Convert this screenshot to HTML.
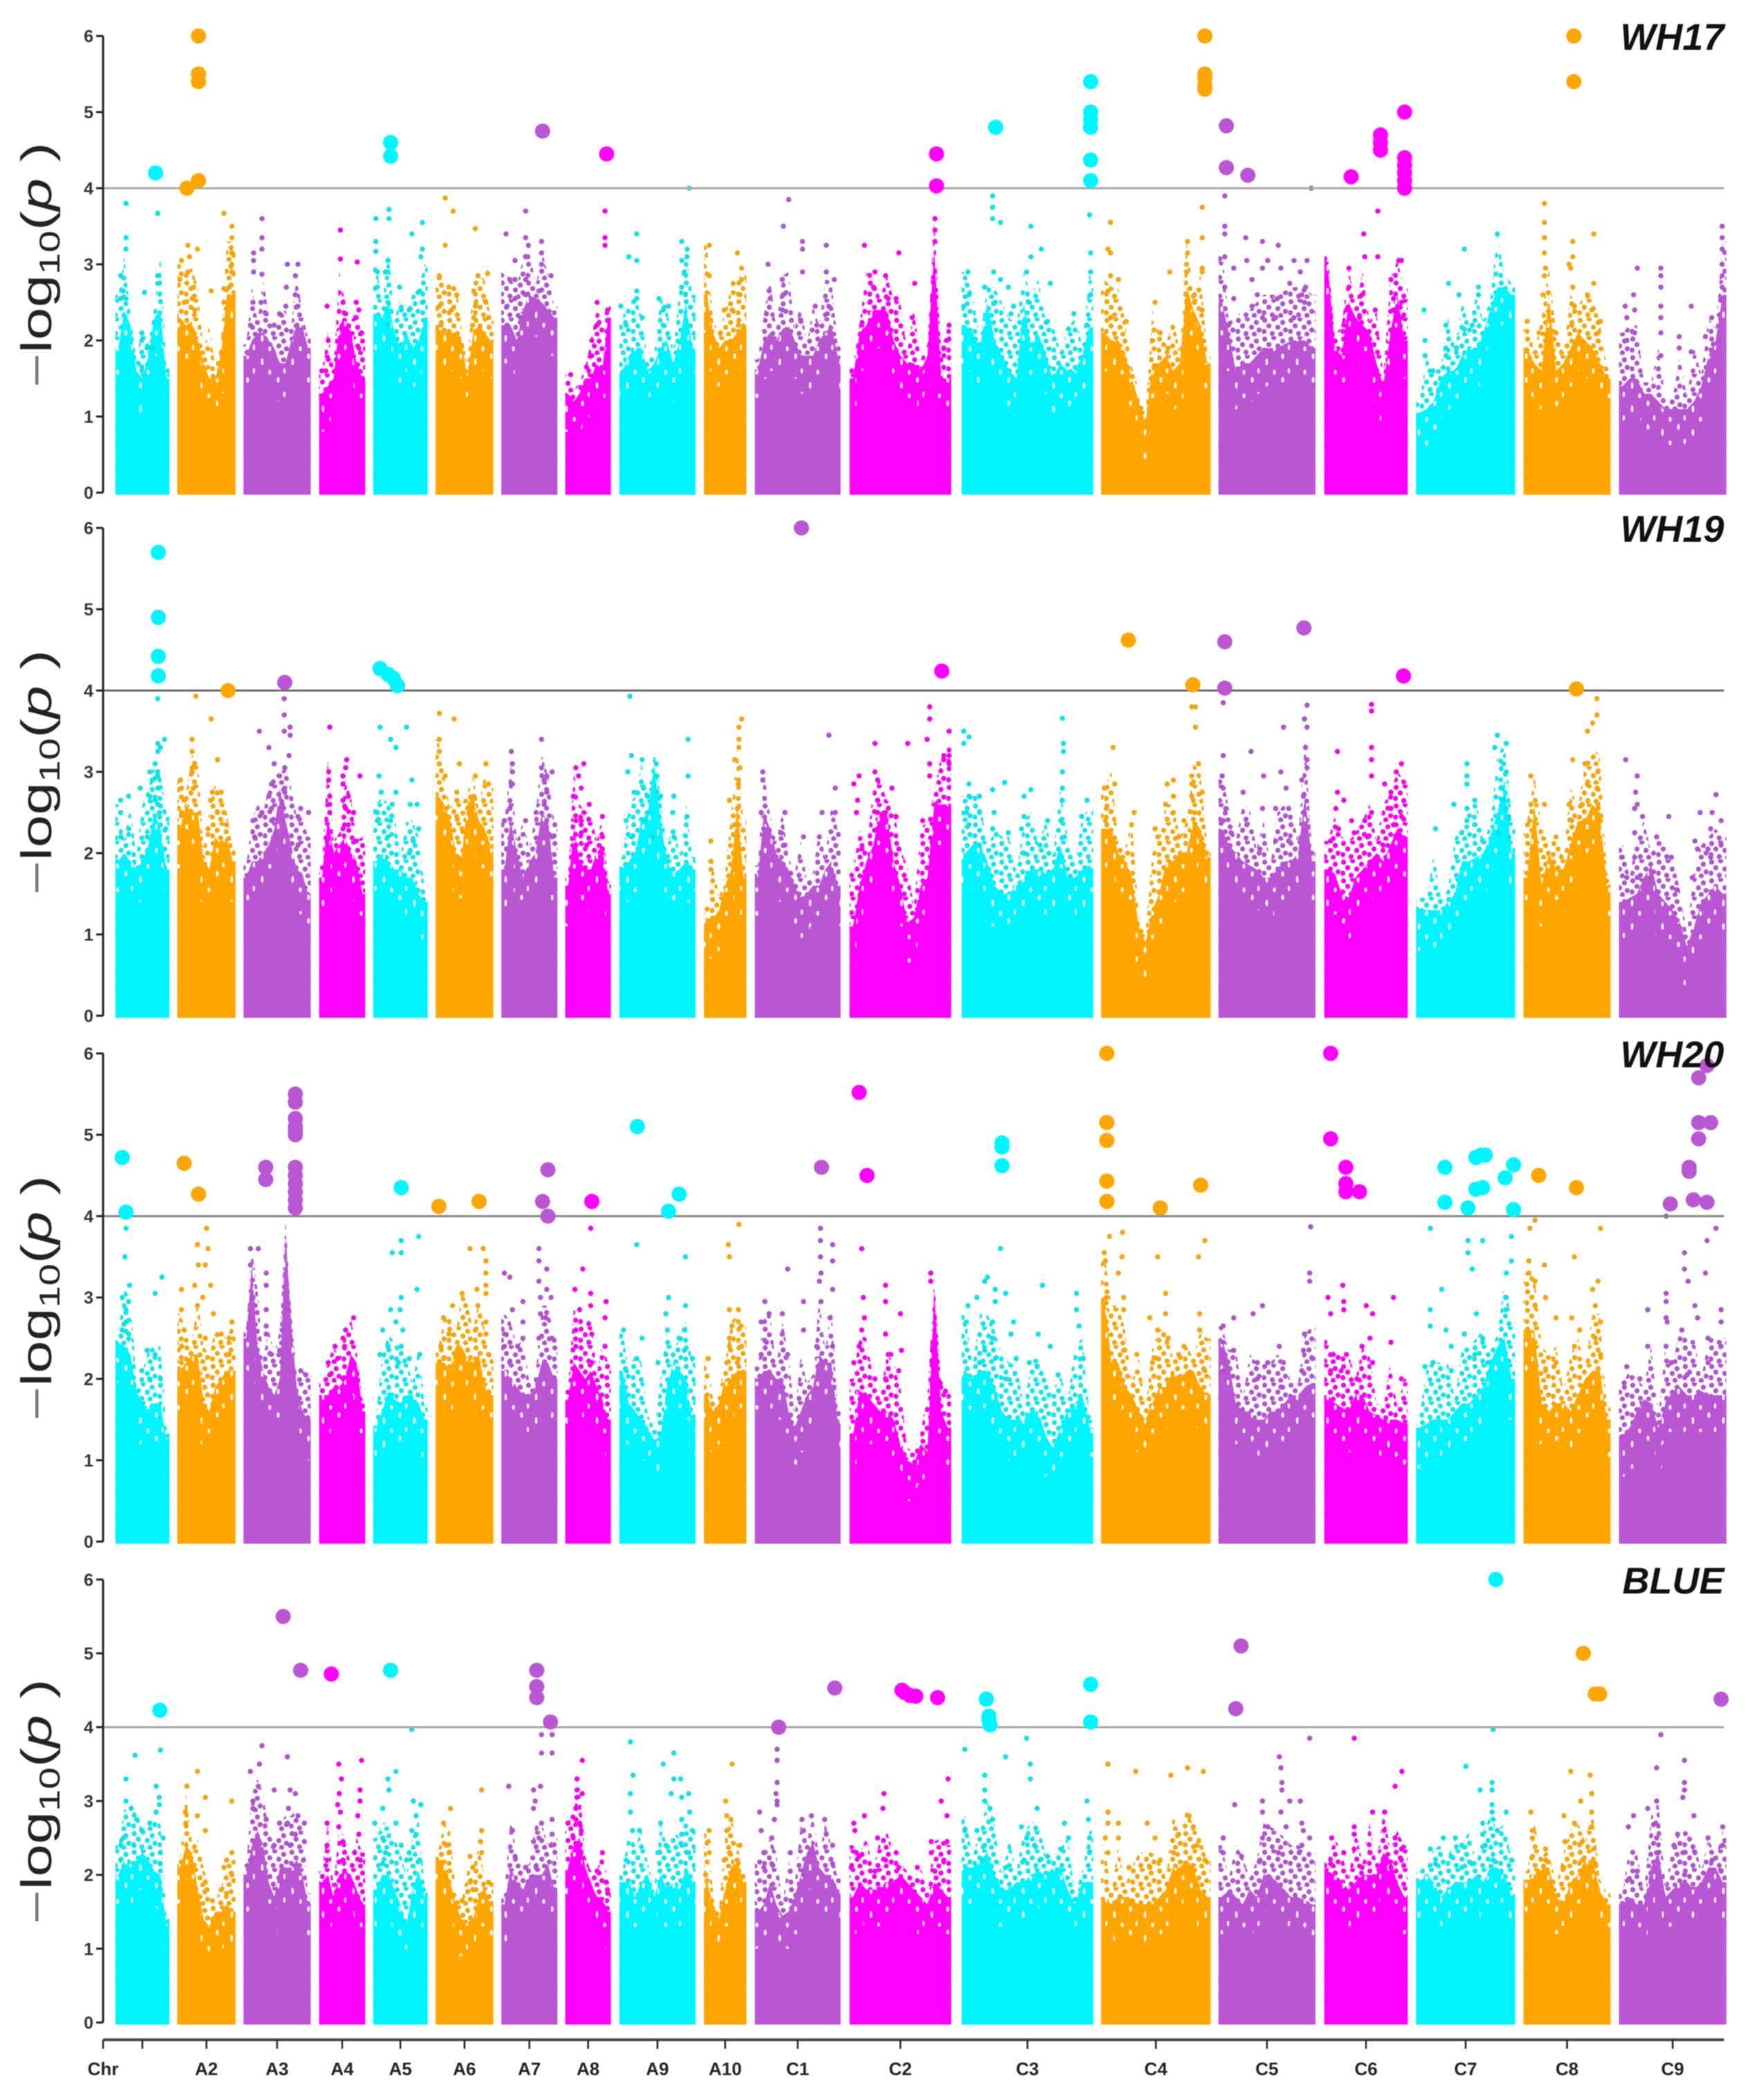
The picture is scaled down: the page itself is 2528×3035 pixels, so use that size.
<!DOCTYPE html>
<html lang="en">
<head>
<meta charset="utf-8">
<title>Manhattan plots WH17 WH19 WH20 BLUE</title>
<style>
html,body{margin:0;padding:0;background:#fff;}
#chart{display:block;width:2528px;height:3035px;filter:blur(0.9px);}
text{font-family:"Liberation Sans",sans-serif;}
</style>
</head>
<body>
<svg id="chart" xmlns="http://www.w3.org/2000/svg" width="2528" height="3035" viewBox="0 0 2528 3035">
<defs>
<g id="speckle-tile"><circle cx="4" cy="4" r="3.7"/><circle cx="17" cy="2" r="3.7"/><circle cx="30" cy="7" r="3.7"/><circle cx="10" cy="12" r="3.7"/><circle cx="23" cy="14" r="3.7"/><circle cx="34" cy="18" r="3.7"/><circle cx="3" cy="20" r="3.7"/><circle cx="15" cy="23" r="3.7"/><circle cx="27" cy="24" r="3.7"/></g>
<pattern id="speckle-0" patternUnits="userSpaceOnUse" width="38" height="27"><use href="#speckle-tile" fill="#14e4e8"/></pattern>
<pattern id="speckle-1" patternUnits="userSpaceOnUse" width="38" height="27"><use href="#speckle-tile" fill="#f4a40c"/></pattern>
<pattern id="speckle-2" patternUnits="userSpaceOnUse" width="38" height="27"><use href="#speckle-tile" fill="#b054cc"/></pattern>
<pattern id="speckle-3" patternUnits="userSpaceOnUse" width="38" height="27"><use href="#speckle-tile" fill="#f006ec"/></pattern>
<pattern id="fleck" patternUnits="userSpaceOnUse" width="44" height="34"><ellipse cx="6" cy="5" rx="2" ry="4" fill="#fff"/><ellipse cx="27" cy="13" rx="1.8" ry="5" fill="#fff"/><ellipse cx="38" cy="28" rx="2" ry="3.5" fill="#fff"/><ellipse cx="15" cy="26" rx="1.6" ry="4" fill="#fff"/></pattern>
</defs>
</svg>
<script>
const chromosomes=['A1','A2','A3','A4','A5','A6','A7','A8','A9','A10','C1','C2','C3','C4','C5','C6','C7','C8','C9'];
const chrLabels=['','A2','A3','A4','A5','A6','A7','A8','A9','A10','C1','C2','C3','C4','C5','C6','C7','C8','C9'];
const chrStart=[35,152,277,420,522,640,764,885,987,1147,1243,1422,1634,1900,2124,2326,2501,2706,2888];
const chrEnd=[137,262,404,507,625,749,870,971,1131,1227,1405,1614,1885,2109,2309,2485,2690,2872,3093];
const yTicks=[0,1,2,3,4,5,6];
const threshold=4;
const rightOffset=1568;

const wh17Envelope=[
[1.9,2.4,2.2,1.6,1.5,1.8,2.3,2.4,1.5],
[2.3,2.2,2.25,2.0,1.7,1.5,1.5,1.8,2.6,2.6],
[1.8,2.0,2.1,2.1,2.0,1.9,1.7,1.7,2.0,2.2,2.2,1.9],
[1.3,1.4,1.5,2.2,2.3,2.1,1.7,1.5],
[2.35,2.3,2.5,2.1,1.9,2.1,1.9,2.0,2.3],
[2.15,2.1,2.1,2.1,2.0,1.5,2.1,2.2,2.1,2.0],
[2.2,2.2,2.0,2.4,2.6,2.55,2.5,2.4,2.3],
[1.3,1.2,1.3,1.5,1.5,1.7,1.6,2.3],
[1.6,1.8,1.9,1.9,1.6,1.7,1.9,2.0,1.7,2.0,2.5,1.9],
[2.6,2.1,1.9,2.0,2.0,2.1,2.2],
[1.6,2.0,2.1,2.0,2.15,2.2,2.0,1.8,1.8,1.8,2.0,2.1,2.2,1.8],
[1.5,2.1,2.2,2.4,2.4,2.4,2.0,1.8,1.7,1.7,1.6,1.8,3.2,1.5,1.5],
[2.2,2.1,1.9,2.5,2.0,1.8,1.6,1.5,2.5,1.9,2.1,1.8,1.5,1.7,1.6,1.6,1.8,2.2],
[2.1,2.0,2.0,1.8,1.5,1.2,0.9,1.7,1.7,1.8,1.6,1.7,2.7,2.4,2.2,1.7],
[2.5,2.1,1.6,1.7,1.7,1.8,1.9,1.9,1.9,1.95,2.0,2.0,2.0,1.9],
[3.0,1.9,1.8,2.5,2.3,2.2,2.1,1.7,1.4,2.1,2.6,2.0],
[1.05,1.1,1.2,1.5,1.6,1.6,1.8,1.9,1.9,2.1,2.4,2.7,2.7,2.6],
[1.9,1.7,1.6,2.6,1.6,1.7,1.9,2.1,2.0,1.9,1.7,1.5],
[1.4,1.5,1.5,1.3,1.3,1.2,1.1,1.1,1.1,1.1,1.2,1.4,1.8,2.0,2.6]];
const wh17DotsLeft=[55,3.8,55,3.35,55,3.2,45,2.85,115,3.67,115,2.85,115,2.75,90,2.63,85,2.1,85,2,95,1.9,105,1.9,85,1.65,50,2.65,45,2.55,55,2.55,
240,3.67,255,3.5,255,3.35,255,3.15,255,3,255,2.9,172,3.25,190,3.2,160,3.05,175,3.1,172,2.9,157,2.8,183,2.7,216,2.65,240,2.68,250,2.7,165,2.5,180,2.55,240,2.5,185,2.4,240,2.05,
312,3.6,312,3.35,312,3.2,296,3.15,296,3.05,296,2.9,312,2.87,360,3,380,3,375,2.85,358,2.7,375,2.6,295,2.5,310,2.5,357,2.45,380,2.45,320,2.35,345,2.35,378,2.2,290,2.2,335,2.2,
460,3.45,460,3.07,492,3.03,435,2.45,465,2.5,490,2.5,495,2.4,490,2.3,470,2.35,437,2,437,1.75,500,2.1,495,1.9,425,1.6,
527,3.6,552,3.72,552,3.6,527,3.3,595,3.4,615,3.55,527,3.17,615,3.2,612,3.1,550,3.05,550,2.9,530,2.9,545,2.9,530,2.7,572,2.7,610,2.65,550,2.5,575,2.4,615,2.5,550,2.2,590,2.4,
658,3.87,673,3.7,715,3.47,658,3.25,647,2.85,665,2.7,680,2.6,712,2.65,720,2.85,738,2.88,647,2.45,715,2.45,735,2.5,670,2.4,712,2.3,740,2.3,650,2.2,710,2.2,
773,3.4,810,3.7,810,3.35,815,3.25,840,3.3,840,3.15,810,3.1,790,3.05,840,3,858,2.85,790,2.8,780,2.8,810,2.8,810,2.6,835,2.65,790,2.55,775,2.45,800,2.3,775,2.2,
960,3.7,960,3.35,960,3.25,945,2.5,965,2.4,945,2.2,935,2,935,1.8,925,1.65,895,1.55,
1119,4,1020,3.4,1105,3.3,1115,3.2,1115,3.1,1105,3.05,1005,3.1,1020,3.05,1110,2.9,1105,2.7,1020,2.65,1020,2.55,1112,2.6,1062,2.55,1080,2.45,990,2.45,1070,2.4,1030,2.3,1000,2.2,1070,2.2,
1157,3.25,1210,3.15,1218,2.95,1157,2.85,1202,2.75,1218,2.8,1215,2.6,1200,2.4,1185,2.4,1212,2.2,1178,2.1,
1307,3.85,1297,3.5,1333,3.3,1333,3.2,1378,3.25,1268,3,1333,2.9,1378,2.9,1393,2.8,1295,2.8,1270,2.65,1297,2.6,1272,2.55,1357,2.45,1383,2.45,1265,2.35,1295,2.4,1380,2.35,1330,2.25,1360,2.2,
1450,3.25,1515,3.15,1470,2.9,1490,2.85,1545,2.75,1467,2.7,1495,2.55,1510,2.55,1460,2.5,1540,2.3,1445,2.2];
const wh17DotsRight=[15,3.6,15,3.45,15,3.3,42,2.2,37,2,32,1.9,32,1.8,
125,3.9,125,3.75,125,3.6,140,3.55,198,3.5,310,3.65,218,3.2,198,3.1,312,3.15,78,2.9,127,2.9,190,2.9,140,2.8,312,2.9,235,2.75,110,2.7,155,2.7,312,2.6,80,2.6,195,2.5,130,2.5,165,2.45,70,2.45,160,2.35,280,2.35,230,2.25,305,2.2,270,2.15,
525,3.75,350,3.55,525,3.35,497,3.3,345,3.2,497,3.15,350,3.15,495,3,525,2.95,495,2.9,463,2.9,525,2.9,350,2.85,365,2.8,345,2.65,510,2.6,435,2.5,510,2.5,525,2.4,350,2.3,380,2.25,445,2.1,430,2,460,1.9,
733,4,568,3.9,568,3.5,568,3.4,608,3.35,640,3.3,670,3.25,568,3.1,610,3.05,650,3.05,700,3.05,725,3.05,585,2.95,640,2.95,675,2.95,712,2.9,620,2.8,692,2.75,568,2.7,722,2.7,630,2.6,585,2.55,668,2.55,715,2.6,620,2.45,720,2.5,640,2.3,700,2.3,575,2.2,665,2.3,
860,3.7,833,3.4,835,3.1,860,3.1,905,3.05,900,3.05,805,2.95,885,2.8,805,2.7,830,2.6,890,2.55,905,2.5,800,2.4,855,2.4,890,2.4,825,2.3,905,2.3,795,2.2,770,2.3,770,2.2,
1088,3.4,1025,3.2,995,2.75,1052,2.7,1015,2.6,1052,2.6,948,2.4,990,2.2,1040,2.2,950,2,1025,2.15,990,1.9,950,1.8,1010,1.9,990,1.8,965,1.6,
1178,3.8,1178,3.55,1178,3.35,1178,3.15,1272,3.4,1232,3.3,1232,3.1,1225,3,1228,2.95,1178,2.85,1180,2.95,1272,2.75,1232,2.7,1175,2.6,1260,2.6,1235,2.45,1268,2.4,1145,2.25,1230,2.2,1285,2.25,1168,2.1,1200,2.1,1280,2.1,1180,2,1245,2,
1517,3.5,1517,3.35,1517,3.2,1517,3,1517,2.85,1355,2.95,1400,2.95,1400,2.85,1400,2.7,1517,2.7,1348,2.6,1517,2.55,1332,2.45,1400,2.45,1458,2.45,1335,2.3,1350,2.4,1400,2.3,1497,2.3,1350,2.1,1400,2.1,1435,2.05,1485,2.05,1335,2,1435,1.9,1500,1.95,1400,1.8,1458,1.85];
const wh17HitsLeft=[111,4.2,170,4,192,4.1,192,5.4,192,5.5,192,6,555,4.42,555,4.6,842,4.75,963,4.45];
const wh17HitsRight=[18,4.45,18,4.03,131,4.8,312,5.4,312,5,312,4.9,312,4.8,312,4.37,312,4.1,530,6,530,5.5,530,5.45,530,5.35,530,5.3,571,4.82,571,4.27,612,4.17,809,4.15,865,4.7,865,4.6,865,4.5,911,5,911,4.4,911,4.3,911,4.2,911,4.1,911,4,1234,6,1234,5.4];

const wh19Envelope=[
[1.9,2.0,1.9,1.8,1.9,2.1,2.5,2.3,1.8],
[2.3,2.6,2.5,2.5,1.9,1.8,2.2,2.1,2.2,1.9],
[1.7,1.9,1.9,2.0,2.1,2.3,2.8,2.4,2.1,1.8,1.75,1.5],
[1.7,2.45,2.0,2.1,2.2,2.0,1.9,1.5],
[1.9,2.0,1.9,1.8,1.8,1.7,1.7,1.5,1.4],
[2.7,2.6,2.4,2.0,1.95,2.6,2.7,2.4,2.3,2.1],
[1.8,2.4,2.0,1.7,1.9,2.0,2.5,2.4,1.7],
[1.6,2.3,1.9,1.8,1.8,2.0,2.1,1.5],
[1.8,1.9,2.0,2.4,2.5,3.1,2.4,1.9,1.75,1.8,1.9,1.8],
[1.2,1.2,1.3,1.6,1.8,2.6,1.7],
[1.7,2.5,2.3,2.0,1.9,1.8,1.6,1.45,1.5,1.6,1.6,1.8,1.9,1.6],
[1.1,1.6,1.9,2.1,2.5,2.5,1.9,1.6,1.15,1.2,1.6,1.7,2.6,2.6,2.6],
[2.0,2.1,2.1,1.9,1.6,1.5,1.5,1.6,1.7,1.8,1.8,1.75,1.8,2.1,1.7,1.7,1.8,1.85],
[2.3,2.3,2.0,1.9,1.7,1.1,0.9,1.3,1.5,1.9,1.9,2.0,2.0,2.4,2.3,1.95],
[2.3,2.1,2.0,1.9,1.85,1.8,1.7,1.7,1.8,1.9,1.9,2.0,2.7,1.9],
[1.8,1.75,1.5,1.45,1.7,1.8,1.9,2.0,1.9,2.1,2.3,2.2],
[1.3,1.3,1.3,1.3,1.4,1.5,1.9,1.9,1.95,2.0,2.2,2.5,2.9,2.0],
[1.7,2.6,1.6,2.0,1.8,1.8,2.1,2.4,2.4,2.6,2.5,1.6],
[1.4,1.45,1.5,1.7,1.85,1.5,1.4,1.3,1.15,0.85,1.1,1.4,1.5,1.6,1.5]];
const wh19DotsLeft=[115,3.9,115,3.35,115,3.25,128,3.4,120,3.3,110,3.1,115,3,115,2.95,100,3,115,2.8,105,2.9,110,2.65,82,2.8,60,2.7,45,2.65,45,2.5,100,2.7,115,2.6,118,2.5,60,2.3,45,2.2,130,2.3,95,2.2,
187,3.93,216,3.65,180,3.4,180,3.25,185,3.1,228,3.15,180,3.05,180,3,158,2.9,160,2.8,182,2.8,218,2.75,235,2.75,165,2.65,215,2.65,228,2.5,240,2.5,160,2.5,245,2.35,210,2.3,
354,3.9,354,3.7,354,3.5,365,3.55,365,3.45,307,3.5,325,3.3,363,3.2,335,3.1,355,3.05,345,2.95,330,2.85,355,2.8,325,2.7,350,2.6,355,2.75,312,2.5,330,2.55,385,2.55,400,2.5,295,2.4,330,2.4,380,2.45,298,2.2,340,2.2,380,2.1,
440,3.55,472,3.15,470,3.05,465,2.95,438,3,438,2.9,497,2.95,465,2.85,440,2.7,440,2.6,465,2.65,475,2.7,470,2.55,440,2.5,485,2.5,475,2.35,490,2.15,465,2.3,
535,3.55,585,3.55,555,3.4,565,3.3,533,2.95,595,2.9,537,2.75,565,2.75,558,2.6,530,2.5,592,2.6,605,2.6,555,2.4,530,2.4,608,2.3,550,2.2,598,2.15,590,2,
647,3.72,675,3.65,647,3.4,647,3.25,647,3.1,685,3.1,735,3.1,658,2.95,715,2.95,680,2.75,680,2.65,712,2.7,740,2.85,710,2.55,740,2.5,680,2.45,715,2.4,660,2.55,690,2.3,
840,3.4,783,3.25,785,3.1,785,3,840,3.05,860,3,850,2.95,845,2.9,785,2.85,850,2.75,845,2.6,780,2.55,830,2.5,850,2.4,770,2.4,810,2.4,860,2.2,
920,3.1,905,3.05,910,2.95,915,2.8,900,2.7,930,2.6,920,2.5,915,2.4,905,2.4,955,2.45,915,2.25,955,2.2,905,2.1,955,2.05,925,2.1,
1007,3.93,1117,3.4,1010,3.2,1030,3.15,1057,3.1,1003,3,1058,2.95,1117,2.95,1033,2.8,1040,2.7,1058,2.75,1015,2.75,1065,2.7,1090,2.7,1042,2.5,1088,2.5,1000,2.4,1035,2.4,1115,2.45,1010,2.2,1090,2.2,1050,2.2,
1218,3.65,1213,3.55,1213,3.4,1213,3.3,1205,3.15,1215,3.05,1212,2.9,1212,2.85,1195,2.65,1210,2.55,1160,2.15,1160,1.9,1205,2.35,1160,1.8,
1383,3.45,1258,3,1258,2.9,1395,2.8,1300,2.5,1370,2.5,1395,2.5,1255,2.5,1260,2.3,1293,2.25,1335,2.2,1365,2.2,1300,2.1,
1470,3.35,1532,3.35,1470,3,1475,2.9,1440,2.95,1430,2.85,1475,2.65,1502,2.8,1437,2.65,1475,2.5,1490,2.5,1435,2.5,1510,2.45,1560,2.4,1475,2.3,1445,2.05,1515,2.05];
const wh19DotsRight=[5,3.8,5,3.65,42,3.5,0,3.4,5,3.1,32,3.2,42,3.2,42,3.1,5,2.95,15,2.6,
258,3.66,70,3.5,80,3.43,70,3.35,260,3.35,260,3.25,258,3,80,2.85,148,2.87,125,2.78,198,2.78,80,2.7,100,2.7,185,2.7,258,2.8,258,2.65,305,2.65,75,2.5,100,2.5,128,2.5,185,2.45,295,2.45,230,2.4,255,2.4,80,2.35,125,2.3,155,2.25,180,2.3,100,2.1,262,2.2,215,2.1,185,2,
355,3.3,512,3.8,505,3.8,512,3.55,518,3.1,505,2.95,505,2.85,470,2.9,458,2.85,338,2.8,358,2.85,470,2.7,505,2.7,525,2.75,455,2.6,470,2.5,342,2.55,395,2.5,510,2.5,340,2.4,390,2.35,490,2.4,435,2.3,440,2.2,480,2.2,
565,3.85,725,3.82,720,3.65,725,3.55,680,3.55,722,3.3,618,3.25,565,3.2,725,3.15,725,3.05,675,3,642,2.95,563,2.95,715,2.9,565,2.8,685,2.8,603,2.75,718,2.7,570,2.55,640,2.55,665,2.55,690,2.55,718,2.5,565,2.4,610,2.35,580,2.25,665,2.15,690,2.15,635,2.05,
848,3.83,848,3.75,848,3.3,783,3.25,848,3.15,905,3.1,895,3,848,2.95,873,2.85,783,2.75,885,2.75,795,2.65,885,2.55,780,2.55,848,2.5,905,2.45,835,2.4,810,2.4,890,2.35,785,2.3,815,2.25,840,2.2,870,2.1,900,2.2,770,2.15,
1088,3.45,1105,3.35,1083,3.3,1100,3.1,1030,3.1,1105,3,1030,2.95,1030,2.85,1095,2.8,1100,2.65,1105,2.55,1045,2.65,1005,2.6,1030,2.55,1110,2.45,1030,2.4,1045,2.35,970,2.3,1020,2.25,1060,2.15,1090,2.25,1110,2.2,
1278,3.9,1278,3.7,1270,3.6,1260,3.5,1232,3.15,1255,3.1,1280,3,1152,2.95,1260,2.85,1278,2.8,1152,2.6,1178,2.6,1225,2.6,1250,2.6,1280,2.6,1230,2.4,1255,2.4,1150,2.4,1285,2.4,1200,2.2,1270,2.2,1230,2,
1333,3.15,1355,2.95,1352,2.75,1505,2.72,1355,2.6,1350,2.55,1475,2.5,1498,2.5,1365,2.45,1415,2.45,1515,2.4,1495,2.3,1350,2.25,1392,2.2,1465,2.15,1515,2.1,1470,2.05,1490,2.05,1350,1.95,1325,1.95,1420,1.95,1495,1.95,1335,1.7,1355,1.7,1380,1.7,1430,1.55,1460,1.7];
const wh19HitsLeft=[116,5.7,116,4.9,116,4.42,116,4.18,248,4,355,4.1,535,4.27,550,4.2,560,4.15,568,4.06,1331,6];
const wh19HitsRight=[28,4.24,384,4.62,507,4.07,568,4.6,568,4.03,719,4.77,909,4.18,1239,4.02];

const wh20Envelope=[
[2.45,2.4,2.3,1.85,1.7,1.65,1.7,1.7,1.25],
[2.1,2.2,2.3,2.3,1.7,1.6,1.9,2.0,2.1,2.1],
[2.5,3.4,2.4,2.1,1.9,1.8,2.0,3.8,2.7,1.9,1.6,1.5],
[1.8,1.8,1.9,1.9,2.0,2.3,2.2,1.6],
[1.4,1.6,1.85,1.75,1.7,1.8,1.8,1.7,1.5],
[2.2,2.2,2.1,2.4,2.4,2.25,2.2,2.3,1.9,1.8],
[2.1,2.0,1.9,1.8,1.8,1.9,2.2,2.2,2.0],
[1.75,2.2,2.1,2.0,2.1,1.9,1.75,1.5],
[2.1,1.7,1.6,1.5,1.4,1.25,1.3,1.9,2.2,2.1,2.0,1.5],
[1.8,1.6,1.7,2.0,2.0,2.1,2.1],
[2.0,2.1,2.1,2.0,2.0,1.6,1.4,1.6,1.8,1.9,2.3,2.2,2.2,1.5],
[1.3,1.85,1.8,1.7,1.6,1.6,1.5,1.2,1.0,0.95,1.2,1.1,3.1,1.6,1.4],
[2.1,2.0,2.1,2.1,1.9,1.6,1.5,1.5,1.5,1.6,1.6,1.3,1.15,1.4,1.6,1.7,1.8,1.4],
[3.0,2.2,2.2,1.9,1.8,1.6,1.5,1.7,1.9,1.9,2.1,2.0,2.1,2.1,1.9,1.8],
[2.5,2.2,1.7,1.6,1.6,1.5,1.5,1.6,1.6,1.7,1.8,1.8,1.9,1.95],
[1.8,1.7,1.65,1.6,1.8,1.8,1.6,1.55,1.5,1.5,1.5,1.45],
[1.4,1.45,1.5,1.5,1.5,1.6,1.7,1.7,1.8,1.9,2.2,2.4,2.5,2.0],
[2.6,2.6,1.7,1.6,1.7,1.7,1.6,1.8,2.0,2.1,2.1,1.5],
[1.3,1.4,1.6,1.75,1.7,1.4,1.7,1.85,1.9,1.8,1.8,1.85,1.8,1.8,1.8]];
const wh20DotsLeft=[55,3.85,53,3.5,123,3.25,62,3.15,48,3,110,3.05,60,2.95,55,2.85,55,2.7,48,2.6,60,2.55,95,2.35,110,2.3,85,2.1,100,2,120,2,
207,3.85,190,3.65,210,3.6,192,3.4,205,3.4,185,3.15,215,3.15,160,3.1,200,3,190,2.9,160,2.85,220,2.8,255,2.7,165,2.6,235,2.55,250,2.5,205,2.5,160,2.4,250,2.3,160,2.2,
305,3.6,290,3.6,290,3.4,320,3.3,320,3.15,295,3,320,2.85,290,2.75,360,2.85,320,2.65,350,2.6,320,2.55,345,2.35,330,2.3,385,2.1,395,2.05,350,2.2,
485,2.75,470,2.6,465,2.5,450,2.4,468,2.4,437,2.2,455,2.25,480,2.1,440,2.05,465,2,490,2,
608,3.75,575,3.7,558,3.55,575,3.55,605,3.1,575,3,555,2.85,573,2.85,565,2.7,540,2.6,578,2.6,550,2.4,575,2.4,535,2.3,610,2.3,590,2.25,570,2.2,
705,3.6,730,3.6,735,3.45,735,3.3,735,3.15,735,3.05,718,3.1,690,3.05,672,2.9,720,2.9,735,2.7,655,2.75,735,2.55,665,2.55,715,2.6,650,2.4,740,2.3,655,2.25,
835,3.6,835,3.45,835,3.2,770,3.3,780,3.25,850,3.35,850,3.1,838,3,858,3,805,2.95,785,2.85,838,2.8,805,2.7,848,2.75,770,2.55,805,2.5,770,2.4,835,2.5,860,2.5,795,2.4,780,2.2,
933,3.85,918,3.35,903,3.1,933,3.05,962,2.95,933,2.9,912,2.85,960,2.75,905,2.6,935,2.55,905,2.4,960,2.4,935,2.2,
1020,3.65,1112,3.5,1080,3,1112,2.9,1075,2.8,1030,2.5,1110,2.6,1078,2.6,995,2.6,1100,2.5,1110,2.35,1020,2.25,1075,2.3,1060,2.2,1125,2.25,1000,2.1,
1213,3.9,1193,3.65,1195,3.5,1195,2.85,1212,2.85,1200,2.65,1195,2.5,1217,2.65,1195,2.4,1218,2.4,1155,2.25,1190,2.2,1210,2.2,
1367,3.85,1367,3.7,1390,3.65,1367,3.5,1390,3.45,1305,3.35,1368,3.3,1365,3.2,1390,3.1,1262,2.95,1335,2.95,1368,2.95,1270,2.8,1295,2.8,1385,2.75,1255,2.7,1335,2.6,1295,2.55,1265,2.45,1360,2.4,1305,2.3,1255,2.3,1390,2.4,
1445,3.6,1490,3.15,1448,3,1490,2.95,1518,2.8,1450,2.75,1445,2.6,1490,2.55,1495,2.3,1440,2.4,1520,2.35,1500,2.3,1430,2.2,1515,2.1,1470,2,1490,2];
const wh20DotsRight=[7,3.3,7,3.2,10,2.35,25,1.95,35,1.85,
140,3.6,115,3.25,110,3.2,220,3.15,130,3.1,150,3.05,285,3.05,130,2.95,95,3,78,2.9,285,2.85,125,2.7,75,2.7,165,2.7,290,2.65,125,2.5,160,2.55,212,2.55,235,2.4,110,2.35,170,2.25,298,2.25,130,2.25,195,2.2,210,2.15,250,2.05,150,2,100,2.2,
348,3.75,373,3.8,530,3.7,338,3.55,340,3.45,372,3.5,440,3.5,518,3.5,365,3.3,455,3.05,375,3,342,3,425,2.75,375,2.85,455,2.8,520,2.8,400,2.3,440,2.6,490,2.4,520,2.6,375,2.35,430,2.2,460,2.5,480,2.3,530,2.1,440,2.25,
732,3.87,730,3.3,730,3.2,640,2.9,622,2.8,585,2.75,565,2.65,720,2.55,565,2.45,672,2.4,585,2.35,718,2.35,735,2.25,630,2.2,680,2.2,565,2.1,650,2.2,715,2.1,675,1.9,630,2,
793,3.15,765,3,795,2.95,890,3,838,2.9,795,2.85,770,2.8,850,2.8,845,2.5,885,2.45,830,2.4,775,2.3,800,2.3,850,2.2,905,2,790,2.1,820,2,770,2.1,
960,3.85,1032,3.7,1060,3.7,1115,3.75,1032,3.55,1115,3.45,1040,3.35,1105,3.3,982,3.1,1105,3,960,2.85,1048,2.8,1105,2.85,960,2.65,990,2.6,1025,2.55,1060,2.5,1000,2.4,1045,2.3,965,2.2,1000,2.1,950,2.15,1070,2.2,
1160,3.95,1150,3.85,1285,3.85,1235,3.5,1148,3.45,1148,3.3,1178,3.4,1160,3.2,1280,3.2,1270,3.1,1180,3,1160,2.9,1275,2.9,1230,2.75,1200,2.75,1285,2.7,1245,2.6,1275,2.5,1200,2.2,1285,2.3,1235,2.4,1180,2.1,
1410,4,1505,3.85,1488,3.7,1445,3.55,1445,3.35,1485,3.3,1452,3.2,1410,3.05,1410,2.95,1375,2.85,1465,2.9,1515,2.85,1410,2.75,1470,2.75,1515,2.7,1412,2.7,1440,2.6,1490,2.5,1375,2.4,1410,2.4,1515,2.4,1335,2.15,1360,2,1330,1.95,1420,2.2,1450,2.05,1490,2.2];
const wh20HitsLeft=[48,4.72,55,4.05,165,4.65,192,4.27,319,4.6,319,4.45,375,5.5,375,5.4,375,5.2,375,5.1,375,5.05,375,5,375,4.6,375,4.5,375,4.4,375,4.3,375,4.2,375,4.1,575,4.35,646,4.12,722,4.18,842,4.18,852,4.57,852,4,935,4.18,1021,5.1,1080,4.06,1100,4.27,1369,4.6,1440,5.52,1455,4.5];
const wh20HitsRight=[143,4.9,143,4.85,143,4.62,343,6,343,5.15,343,4.93,343,4.43,343,4.18,445,4.1,522,4.38,770,6,770,4.95,799,4.6,799,4.4,799,4.3,825,4.3,988,4.6,988,4.17,1032,4.1,1047,4.72,1057,4.75,1065,4.75,1047,4.33,1060,4.35,1103,4.47,1119,4.63,1119,4.08,1167,4.5,1239,4.35,1418,4.15,1454,4.6,1454,4.55,1462,4.2,1472,4.95,1472,5.7,1488,5.85,1472,5.15,1495,5.15,1488,4.17];

const blueEnvelope=[
[2.0,2.2,2.1,2.2,2.3,2.2,2.05,2.0,1.3],
[2.1,2.4,2.3,1.8,1.4,1.3,1.5,1.5,1.6,1.5],
[2.0,2.4,2.6,2.4,1.9,1.7,2.1,2.1,2.1,2.2,2.0,1.6],
[1.9,2.0,1.7,2.0,2.05,2.0,1.8,1.6],
[1.8,2.0,2.0,1.8,1.6,1.3,1.8,2.05,1.7],
[2.2,2.2,1.9,1.6,1.4,1.35,1.4,1.7,1.8,1.6],
[1.6,2.1,1.9,1.8,2.0,2.0,2.0,2.15,1.8],
[2.1,2.4,2.5,2.1,1.9,1.7,1.7,1.5],
[1.9,1.9,1.7,1.9,2.0,1.7,2.0,1.8,1.9,1.8,2.1,1.9],
[1.9,1.6,1.4,1.8,2.1,2.2,1.9],
[1.5,1.6,1.9,1.6,1.45,1.5,1.7,2.0,2.3,2.45,2.1,2.0,2.0,1.8],
[1.7,1.9,1.8,1.8,1.8,1.9,1.9,2.0,1.9,1.8,1.7,1.6,1.9,1.8,1.7],
[2.1,2.1,2.2,2.3,2.0,1.8,1.8,1.9,1.9,2.0,2.05,2.0,2.1,2.1,1.8,1.6,1.9,1.9],
[1.7,1.6,1.7,1.7,1.65,1.6,1.6,1.6,1.7,1.8,2.1,2.1,2.2,2.1,1.8,1.7],
[1.7,1.8,1.7,1.6,1.8,1.7,2.0,2.0,1.9,1.8,1.7,1.7,1.65,1.6],
[2.05,2.0,1.9,1.8,1.9,2.0,2.0,2.0,2.3,2.2,1.9,1.7],
[1.9,2.0,1.9,1.7,1.8,1.9,1.9,1.9,2.0,1.9,2.1,2.1,2.0,1.7],
[1.9,2.0,2.1,2.1,1.7,1.6,1.9,2.0,2.2,2.2,1.8,1.6],
[1.6,1.7,1.6,1.6,2.1,2.3,1.7,1.8,1.9,1.9,1.8,1.9,2.1,2.1,1.9]];
const blueDotsLeft=[120,3.69,72,3.62,55,3.3,112,3.2,118,3.05,118,2.95,55,3,65,2.9,112,2.85,75,2.75,100,2.7,85,2.6,50,2.5,125,2.5,45,2.4,120,2.3,70,2.4,45,2.2,120,2.15,
190,3.4,170,3.2,205,3.05,255,3,167,2.85,190,2.8,168,2.7,205,2.6,255,2.3,245,2.2,240,2.1,255,2,205,1.9,235,1.8,208,1.8,245,1.75,
312,3.75,360,3.6,307,3.5,290,3.4,305,3.2,365,3.15,375,3.1,335,3.15,295,3,295,2.9,362,2.9,380,2.8,320,2.75,345,2.7,360,2.7,392,2.7,375,2.55,392,2.45,365,2.4,335,2.4,290,2.2,390,2.2,
500,3.55,457,3.5,462,3.3,458,3.1,497,3.15,497,3,455,2.95,460,2.85,493,2.8,435,2.7,457,2.65,495,2.55,435,2.4,465,2.45,487,2.3,435,2.2,465,2.2,498,2.2,
595,3.97,565,3.4,550,3.3,552,3.15,598,3,612,2.95,540,2.9,603,2.8,525,2.7,565,2.7,595,2.6,603,2.55,540,2.5,575,2.4,545,2.3,590,2.3,610,2.2,540,2.15,585,2.2,
668,2.9,727,3.15,655,2.7,727,2.6,725,2.45,660,2.4,727,2.3,705,2.25,710,2.1,665,2.3,705,1.9,740,1.9,710,1.8,730,1.75,690,1.65,
840,3.9,860,3.9,840,3.65,860,3.65,778,3.2,838,3.2,825,3.15,828,3,825,2.9,860,2.75,840,2.7,785,2.6,860,2.55,835,2.5,825,2.45,858,2.4,790,2.25,810,2.1,830,2.1,
917,3.55,907,3.3,907,3.15,907,3.05,917,3.1,905,2.9,905,2.75,890,2.7,912,2.7,900,2.5,915,2.6,962,1.9,965,1.75,955,2.3,945,2.05,
1008,3.8,1090,3.65,1070,3.5,1103,3.3,1013,3.35,1090,3.3,1008,3.1,1118,3.1,1085,3.1,1105,3.05,1120,2.85,1008,2.85,1105,2.75,1065,2.7,1012,2.6,1025,2.6,1105,2.55,1125,2.6,1075,2.4,1105,2.4,1060,2.3,1000,2.2,1118,2.3,
1200,3.5,1188,3,1190,2.8,1198,2.75,1157,2.6,1190,2.6,1155,2.45,1215,2.4,1195,2.3,1157,2.3,1210,2.2,1150,2,1185,2.2,
1285,3.7,1285,3.55,1285,3.25,1283,3.1,1285,2.95,1285,3,1252,2.85,1280,2.75,1332,2.75,1375,2.75,1350,2.8,1255,2.6,1335,2.6,1378,2.55,1275,2.5,1390,2.4,1260,2.3,1310,2.3,1350,2.3,1275,2.15,1310,2.05,1260,2.1,1390,2.15,1335,2,
1487,3.1,1485,2.9,1450,2.8,1430,2.7,1432,2.6,1475,2.5,1435,2.3,1510,2.3,1425,2.1,1470,2.05,1490,2.2,1515,2.1,1550,2.1,1440,2.25];
const blueDotsRight=[40,3.3,27,3,38,2.8,8,2.45,38,2.45,8,2.3,32,2.2,15,2.05,
190,3.85,72,3.7,150,3.6,197,3.5,110,3.35,197,3.3,110,3.15,110,3,305,3,120,2.9,210,2.9,125,2.75,308,2.75,262,2.7,180,2.65,72,2.6,95,2.6,190,2.5,310,2.5,270,2.5,110,2.4,205,2.4,310,2.3,255,2.35,105,2.2,185,2.2,230,2.25,150,2.1,215,2.2,
345,3.5,398,3.4,465,3.35,497,3.45,527,3.4,345,2.85,345,2.7,420,2.7,365,2.7,500,2.8,508,2.65,480,2.55,340,2.5,435,2.5,365,2.5,515,2.4,345,2.3,470,2.3,530,2.2,445,2.2,425,2.1,385,2.1,
730,3.85,672,3.6,675,3.45,677,3.25,677,3.15,692,3,712,3,587,2.95,640,3,640,2.85,675,2.85,715,2.7,650,2.65,718,2.6,685,2.65,565,2.5,640,2.5,730,2.5,715,2.4,565,2.3,670,2.3,710,2.3,635,2.2,600,2.25,
815,3.85,906,3.4,893,3.2,850,2.85,873,2.85,815,2.65,815,2.55,772,2.5,893,2.5,872,2.6,905,2.35,795,2.3,815,2.35,845,2.3,905,2.2,770,2.15,830,2.1,885,2.1,
1080,3.97,1028,3.47,1078,3.25,1055,3.15,1078,3.15,1078,2.95,1078,2.85,1105,2.85,1080,2.75,1060,2.7,1088,2.6,1060,2.55,1008,2.5,985,2.5,1020,2.4,960,2.35,1065,2.4,1000,2.25,1115,2.2,970,2.15,1040,2.15,1080,2.2,1020,2.1,
1228,3.4,1265,3.35,1268,3.1,1247,3,1152,2.85,1268,2.85,1215,2.8,1235,2.7,1155,2.6,1268,2.65,1155,2.5,1217,2.45,1250,2.45,1180,2.35,1272,2.35,1155,2.25,1250,2.2,1275,2.15,1180,2.2,1215,2.1,
1400,3.9,1445,3.55,1392,3.45,1445,3.25,1445,3.15,1442,3.05,1392,3,1375,2.9,1348,2.8,1463,2.8,1338,2.65,1390,2.7,1518,2.65,1392,2.5,1432,2.55,1490,2.5,1518,2.4,1425,2.4,1442,2.3,1465,2.3,1392,2.3,1498,2.2,1355,2.05,1515,2.05,1445,2,1340,1.95];
const blueHitsLeft=[119,4.23,352,5.5,385,4.77,443,4.72,555,4.77,831,4.77,831,4.55,831,4.4,857,4.07,1288,4,1394,4.53,1521,4.5,1526,4.47,1536,4.43,1547,4.42];
const blueHitsRight=[20,4.4,113,4.38,118,4.15,118,4.1,120,4.03,312,4.58,312,4.07,589,4.25,599,5.1,1085,6,1252,5,1275,4.45,1283,4.45,1515,4.38];

const panelNames=['WH17','WH19','WH20','BLUE'];

const svg=document.getElementById('chart');
const NS='http://www.w3.org/2000/svg';
const fills=['#00f5ff','#ffa500','#ba55d3','#ff00ff'];
const dotFills=['#10e0e4','#f2a410','#ac54c8','#ec08e4'];
const colorOrder=[0,1,2,3,0,1,2,3,0,1,2,3,0,1,2,3,0,1,2];
const axisLeft=149;
const axisRight=2492;
const layouts=[
 {y0:712,unit:110,line:'#a8a8a8'},
 {y0:1468,unit:117.5,line:'#6a6a6a'},
 {y0:2228,unit:117.6,line:'#808080'},
 {y0:2923,unit:106.7,line:'#a4a4a4'}
];
function xOf(p){return p<rightOffset?140+p/1.307:1340+(p-rightOffset)/1.32;}
function make(tag,attrs,parent){
 const el=document.createElementNS(NS,tag);
 for(const k in attrs){el.setAttribute(k,attrs[k]);}
 parent.appendChild(el);
 return el;
}
function chrIndexOf(p){
 for(let i=0;i<chrEnd.length;i++){if(p<chrEnd[i]+8)return i;}
 return chrEnd.length-1;
}
function profilePath(x0,x1,base,tops,yOf){
 const w=(x1-x0)/tops.length;
 let d='M'+x0.toFixed(1)+' '+base+'L'+x0.toFixed(1)+' '+yOf(tops[0]).toFixed(1);
 tops.forEach((v,i)=>{d+='L'+(x0+(i+0.5)*w).toFixed(1)+' '+yOf(v).toFixed(1);});
 d+='L'+x1.toFixed(1)+' '+yOf(tops[tops.length-1]).toFixed(1)+'L'+x1.toFixed(1)+' '+base+'Z';
 return d;
}
function cloudTops(c,bins,allDots){
 const start=chrStart[c],end=chrEnd[c];
 const best=bins.map(v=>v+0.15);
 for(let i=0;i<allDots.length;i+=2){
  const p=allDots[i];
  if(p<start||p>end)continue;
  const b=Math.min(bins.length-1,Math.floor((p-start)/(end-start)*bins.length));
  const v=allDots[i+1];
  if(v>best[b])best[b]=v;
 }
 return best.map((v,i)=>Math.min(v,bins[i]+0.7));
}
function drawPanel(index,name,envelope,dotsLeft,dotsRight,hitsLeft,hitsRight){
 const L=layouts[index];
 const yOf=v=>L.y0-v*L.unit;
 const g=make('g',{},svg);
 
 
 const allDots=dotsLeft.concat(dotsRight.map((n,i)=>i%2===0?n+rightOffset:n));
 envelope.forEach((bins,c)=>{
  const x0=xOf(chrStart[c]),x1=xOf(chrEnd[c]);
  const base=L.y0+3;
  const tone=colorOrder[c];
  const cloud=make('path',{d:profilePath(x0,x1,base,cloudTops(c,bins,allDots),yOf),fill:'url(#speckle-'+tone+')'},g);
  
  
  const mass=make('path',{d:profilePath(x0,x1,base,bins,yOf),fill:fills[tone]},g);
  
  
  let fleckPath='';
  const w=(x1-x0)/bins.length;
  bins.forEach((v,i)=>{
   const top=yOf(v).toFixed(1);
   const low=yOf(Math.max(v-0.5,0.2)).toFixed(1);
   fleckPath+='M'+(x0+i*w).toFixed(1)+' '+top+'H'+(x0+(i+1)*w).toFixed(1)+'V'+low+'H'+(x0+i*w).toFixed(1)+'Z';
  });
  const flecks=make('path',{d:fleckPath,fill:'url(#fleck)'},g);
  
  
 });
 const drawPoints=(arr,offset,r,palette,label)=>{
  for(let i=0;i<arr.length;i+=2){
   const p=arr[i]+offset;
   const c=chrIndexOf(p);
   const dot=make('circle',{cx:xOf(p).toFixed(1),cy:yOf(arr[i+1]).toFixed(1),r:r,fill:palette[colorOrder[c]]},g);
   
   
  }
 };
 drawPoints(dotsLeft,0,3.8,dotFills,'snp-point');
 drawPoints(dotsRight,rightOffset,3.8,dotFills,'snp-point');
 const thr=make('line',{x1:axisLeft,x2:axisRight,y1:yOf(threshold),y2:yOf(threshold),stroke:L.line,'stroke-width':3},g);
 
 
 drawPoints(hitsLeft,0,11,fills,'significant-snp');
 drawPoints(hitsRight,rightOffset,11,fills,'significant-snp');
 const axis=make('line',{x1:axisLeft,x2:axisLeft,y1:yOf(6),y2:yOf(0),stroke:'#222','stroke-width':3},g);
 
 
 yTicks.forEach(t=>{
  const tick=make('line',{x1:axisLeft-10,x2:axisLeft,y1:yOf(t),y2:yOf(t),stroke:'#222','stroke-width':3},g);
  
  
  const lab=make('text',{x:axisLeft-14,y:yOf(t)+9,'text-anchor':'end','font-size':25,'font-weight':700,fill:'#333'},g);
  lab.textContent=String(t);
  
  
 });
 const mid=yOf(3)+28;
 const title=make('text',{transform:'translate(74,'+(mid+150)+') rotate(-90) scale(1.37,1)','font-size':62,fill:'#222'},g);
 
 
 const parts=[['\u2212',{fill:'#777'}],['log',{}],['10',{'font-size':42,dy:12}],['(',{dy:-12}],['p',{'font-style':'italic'}],[' )',{}]];
 parts.forEach(pt=>{
  const ts=make('tspan',pt[1],title);
  ts.textContent=pt[0];
 });
 const label=make('text',{x:axisRight,y:yOf(6)+20,'text-anchor':'end','font-size':54,'font-weight':700,'font-style':'italic',fill:'#111'},g);
 label.textContent=name;
 
 
}
drawPanel(0,panelNames[0],wh17Envelope,wh17DotsLeft,wh17DotsRight,wh17HitsLeft,wh17HitsRight);
drawPanel(1,panelNames[1],wh19Envelope,wh19DotsLeft,wh19DotsRight,wh19HitsLeft,wh19HitsRight);
drawPanel(2,panelNames[2],wh20Envelope,wh20DotsLeft,wh20DotsRight,wh20HitsLeft,wh20HitsRight);
drawPanel(3,panelNames[3],blueEnvelope,blueDotsLeft,blueDotsRight,blueHitsLeft,blueHitsRight);

const xg=make('g',{},svg);


const xLine=make('line',{x1:axisLeft,x2:axisRight,y1:2948,y2:2948,stroke:'#444','stroke-width':4},xg);


const originTick=make('line',{x1:axisLeft,x2:axisLeft,y1:2948,y2:2961,stroke:'#222','stroke-width':2.5},xg);


const chrText=make('text',{x:axisLeft,y:2999,'text-anchor':'middle','font-size':26,'font-weight':700,fill:'#222'},xg);
chrText.textContent='Chr';


chromosomes.forEach((c,i)=>{
 const x=(xOf(chrStart[i])+xOf(chrEnd[i]))/2;
 const tick=make('line',{x1:x,x2:x,y1:2948,y2:2961,stroke:'#222','stroke-width':2.5},xg);
 
 
 if(chrLabels[i]){
  const t=make('text',{x:x,y:2999,'text-anchor':'middle','font-size':26,'font-weight':700,fill:'#222'},xg);
  t.textContent=chrLabels[i];
  
  
 }
});
</script>
</body>
</html>
